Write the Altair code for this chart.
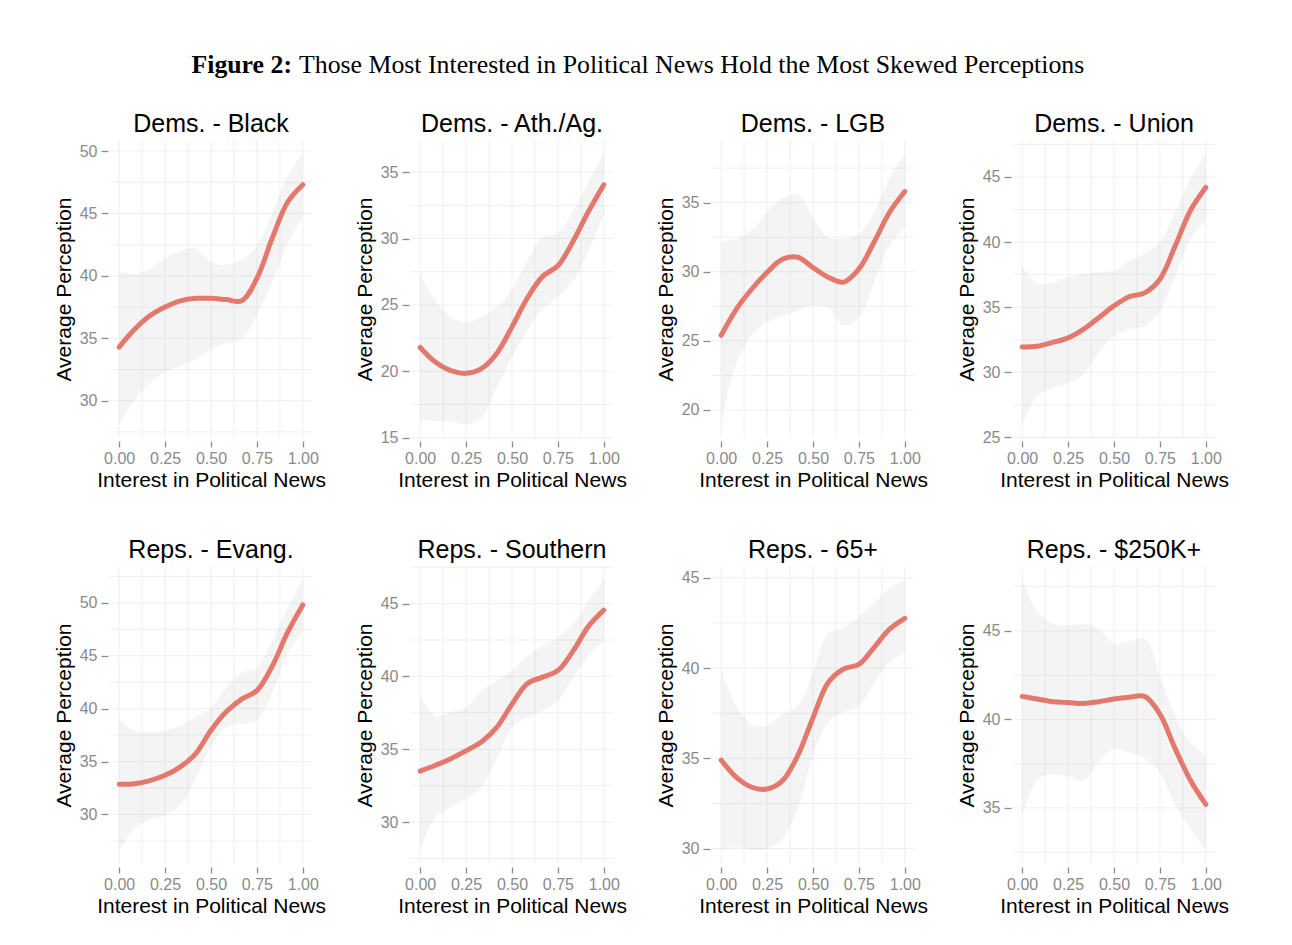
import altair as alt
import pandas as pd

# x grid (Interest in Political News)
X = [0.0, 0.083, 0.167, 0.25, 0.333, 0.417, 0.5, 0.583, 0.667, 0.75, 0.833, 0.917, 1.0]

titles = ["Dems. - Black", "Dems. - Ath./Ag.", "Dems. - LGB", "Dems. - Union",
          "Reps. - Evang.", "Reps. - Southern", "Reps. - 65+", "Reps. - $250K+"]

fit_black = [34.3, 35.7, 36.8, 37.5, 38.0, 38.2, 38.2, 38.1, 38.0, 39.8, 43.0, 45.9, 47.3]
lo_black = [28.1, 30.0, 31.4, 32.3, 32.8, 33.3, 34.1, 34.6, 34.9, 36.9, 39.5, 42.6, 44.7]
hi_black = [40.4, 40.1, 40.6, 41.4, 42.0, 42.2, 41.1, 40.9, 41.3, 42.4, 45.0, 48.0, 49.8]

fit_ath = [21.8, 20.7, 20.05, 19.85, 20.2, 21.35, 23.35, 25.5, 27.15, 27.95, 29.8, 32.05, 34.05]
lo_ath = [16.4, 16.25, 16.25, 16.0, 16.5, 18.85, 21.1, 23.1, 24.7, 25.6, 26.8, 29.1, 31.8]
hi_ath = [27.3, 25.3, 24.1, 23.7, 24.1, 24.8, 26.2, 28.3, 30.1, 30.4, 32.05, 34.3, 36.4]

fit_lgb = [25.4, 27.3, 28.75, 29.95, 30.9, 31.05, 30.3, 29.6, 29.25, 30.2, 32.15, 34.3, 35.8]
lo_lgb = [18.95, 23.4, 25.4, 26.35, 26.8, 27.2, 27.55, 27.4, 26.1, 26.7, 29.25, 31.9, 33.2]
hi_lgb = [32.15, 32.4, 33.0, 34.3, 35.3, 35.6, 33.85, 32.5, 32.4, 32.75, 34.3, 36.75, 38.55]

fit_union = [31.95, 32.0, 32.3, 32.65, 33.3, 34.2, 35.1, 35.8, 36.1, 37.15, 39.7, 42.45, 44.2]
lo_union = [26.0, 28.2, 28.8, 29.2, 29.85, 31.5, 32.8, 33.3, 33.55, 34.7, 37.4, 40.25, 41.65]
hi_union = [38.2, 36.8, 36.9, 37.3, 37.55, 37.7, 37.8, 38.55, 39.1, 40.0, 42.3, 44.9, 46.8]

fit_evang = [32.85, 32.9, 33.2, 33.7, 34.5, 35.75, 37.95, 39.7, 40.9, 41.7, 44.0, 47.2, 49.8]
lo_evang = [26.6, 28.7, 29.5, 29.95, 30.9, 33.4, 36.4, 38.25, 38.55, 38.9, 41.55, 45.15, 47.35]
hi_evang = [39.0, 37.9, 37.75, 37.9, 38.4, 39.2, 40.1, 42.0, 43.4, 43.9, 46.4, 49.5, 52.2]

fit_south = [33.5, 33.9, 34.35, 34.9, 35.5, 36.5, 38.1, 39.5, 39.95, 40.4, 41.75, 43.45, 44.55]
lo_south = [28.05, 30.35, 31.0, 31.6, 32.4, 34.35, 36.5, 37.2, 37.65, 38.35, 39.95, 41.4, 42.45]
hi_south = [38.7, 37.3, 37.55, 37.9, 39.0, 39.7, 40.4, 41.4, 42.1, 42.7, 43.6, 45.2, 46.65]

fit_65 = [34.9, 33.95, 33.4, 33.3, 33.75, 35.15, 37.25, 39.2, 39.95, 40.2, 41.15, 42.15, 42.75]
lo_65 = [29.9, 30.1, 29.9, 30.0, 30.55, 32.2, 35.15, 37.0, 37.55, 37.9, 39.2, 40.3, 40.85]
hi_65 = [39.95, 37.9, 36.9, 36.8, 37.45, 37.9, 39.75, 41.95, 42.25, 42.9, 43.6, 44.45, 44.9]

fit_250 = [41.3, 41.15, 41.0, 40.95, 40.9, 41.0, 41.15, 41.25, 41.3, 40.3, 38.35, 36.55, 35.2]
lo_250 = [34.55, 36.6, 36.9, 36.8, 36.55, 37.6, 38.35, 38.15, 37.8, 37.0, 35.15, 33.8, 32.6]
hi_250 = [47.9, 46.1, 45.4, 45.3, 45.4, 45.1, 44.3, 44.4, 44.55, 42.5, 40.2, 38.7, 37.95]

fits = [fit_black, fit_ath, fit_lgb, fit_union, fit_evang, fit_south, fit_65, fit_250]
lows = [lo_black, lo_ath, lo_lgb, lo_union, lo_evang, lo_south, lo_65, lo_250]
highs = [hi_black, hi_ath, hi_lgb, hi_union, hi_evang, hi_south, hi_65, hi_250]

yticks = [[30, 35, 40, 45, 50], [15, 20, 25, 30, 35], [20, 25, 30, 35], [25, 30, 35, 40, 45],
          [30, 35, 40, 45, 50], [30, 35, 40, 45], [30, 35, 40, 45], [35, 40, 45]]
xticks = [0.0, 0.25, 0.5, 0.75, 1.0]
xgrid = [0.0, 0.125, 0.25, 0.375, 0.5, 0.625, 0.75, 0.875, 1.0]

fig_label = "Figure 2:"
fig_title = "Those Most Interested in Political News Hold the Most Skewed Perceptions"

SANS = "Liberation Sans"
SERIF = "Liberation Serif"
PW, PH = 202, 298
HSP, VSP = 99, 128
INTERP = "catmull-rom"

X_AXIS = alt.Axis(values=xticks, format=".2f", title="Interest in Political News", grid=False,
                  domain=False, tickColor="#8c8c8c", tickSize=6, tickWidth=1.3, offset=3,
                  labelColor="#8a8a8a", labelFontSize=16, labelFont=SANS, labelPadding=3,
                  labelFlush=False, labelOverlap=False, titleFont=SANS, titleFontSize=21,
                  titleFontWeight="normal", titleColor="black", titlePadding=3)


def y_axis(i):
    return alt.Axis(values=yticks[i], format="d", title="Average Perception", grid=False,
                    domain=False, tickColor="#8c8c8c", tickSize=7, tickWidth=1.3, offset=2,
                    labelColor="#8a8a8a", labelFontSize=16, labelFont=SANS, labelPadding=4,
                    labelFlush=False, labelOverlap=False, titleFont=SANS, titleFontSize=21,
                    titleFontWeight="normal", titleColor="black", titlePadding=5)


def panel(i):
    df = pd.DataFrame({"x": X, "fit": fits[i], "lo": lows[i], "hi": highs[i]})
    mn, mx = min(lows[i]), max(highs[i])
    r = mx - mn
    dom = [mn - 0.05 * r, mx + 0.05 * r]
    t = yticks[i]
    step = t[1] - t[0]
    gy = sorted(set(t + [v + step / 2 for v in t] + [t[0] - step / 2]))
    gy = [v for v in gy if dom[0] <= v <= dom[1]]
    xs = alt.Scale(domain=[-0.05, 1.05], nice=False, zero=False)
    ys = alt.Scale(domain=dom, nice=False, zero=False)
    ya = y_axis(i)
    gridx = alt.Chart(pd.DataFrame({"x": xgrid})).mark_rule(color="#efefef", strokeWidth=1).encode(
        x=alt.X("x:Q", scale=xs, axis=X_AXIS))
    gridy = alt.Chart(pd.DataFrame({"y": gy})).mark_rule(color="#efefef", strokeWidth=1).encode(
        y=alt.Y("y:Q", scale=ys, axis=ya))
    band = alt.Chart(df).mark_area(interpolate=INTERP, color="#8f8f8f", opacity=0.1).encode(
        x=alt.X("x:Q", scale=xs, axis=X_AXIS),
        y=alt.Y("lo:Q", scale=ys, axis=ya),
        y2="hi:Q")
    line = alt.Chart(df).mark_line(interpolate=INTERP, color="#e3786d", strokeWidth=5,
                                   strokeCap="round").encode(
        x=alt.X("x:Q", scale=xs, axis=X_AXIS),
        y=alt.Y("fit:Q", scale=ys, axis=ya))
    return alt.layer(gridx, gridy, band, line).properties(
        width=PW, height=PH,
        title=alt.TitleParams(titles[i], fontSize=25, font=SANS, fontWeight="normal",
                              color="black", offset=3, anchor="middle"))


grid = alt.concat(*[panel(i) for i in range(8)], columns=4,
                  spacing={"row": VSP, "column": HSP}, bounds="flush")

GW = 4 * PW + 3 * HSP
header = alt.layer(
    alt.Chart(pd.DataFrame({"t": [fig_label]})).mark_text(
        font=SERIF, fontSize=25.8, fontWeight="bold", align="right", baseline="middle", color="black"
    ).encode(text="t:N", x=alt.value(182), y=alt.value(20)),
    alt.Chart(pd.DataFrame({"t": [fig_title]})).mark_text(
        font=SERIF, fontSize=25.8, align="left", baseline="middle", color="black"
    ).encode(text="t:N", x=alt.value(189), y=alt.value(20)),
).properties(width=GW, height=40)

chart = alt.vconcat(header, grid, spacing=26).properties(
    padding={"left": 45, "top": 37, "right": 5, "bottom": 5}
).configure(background="white").configure_view(strokeWidth=0)

chart.save("out.html", embed_options={"renderer": "svg", "actions": False})
